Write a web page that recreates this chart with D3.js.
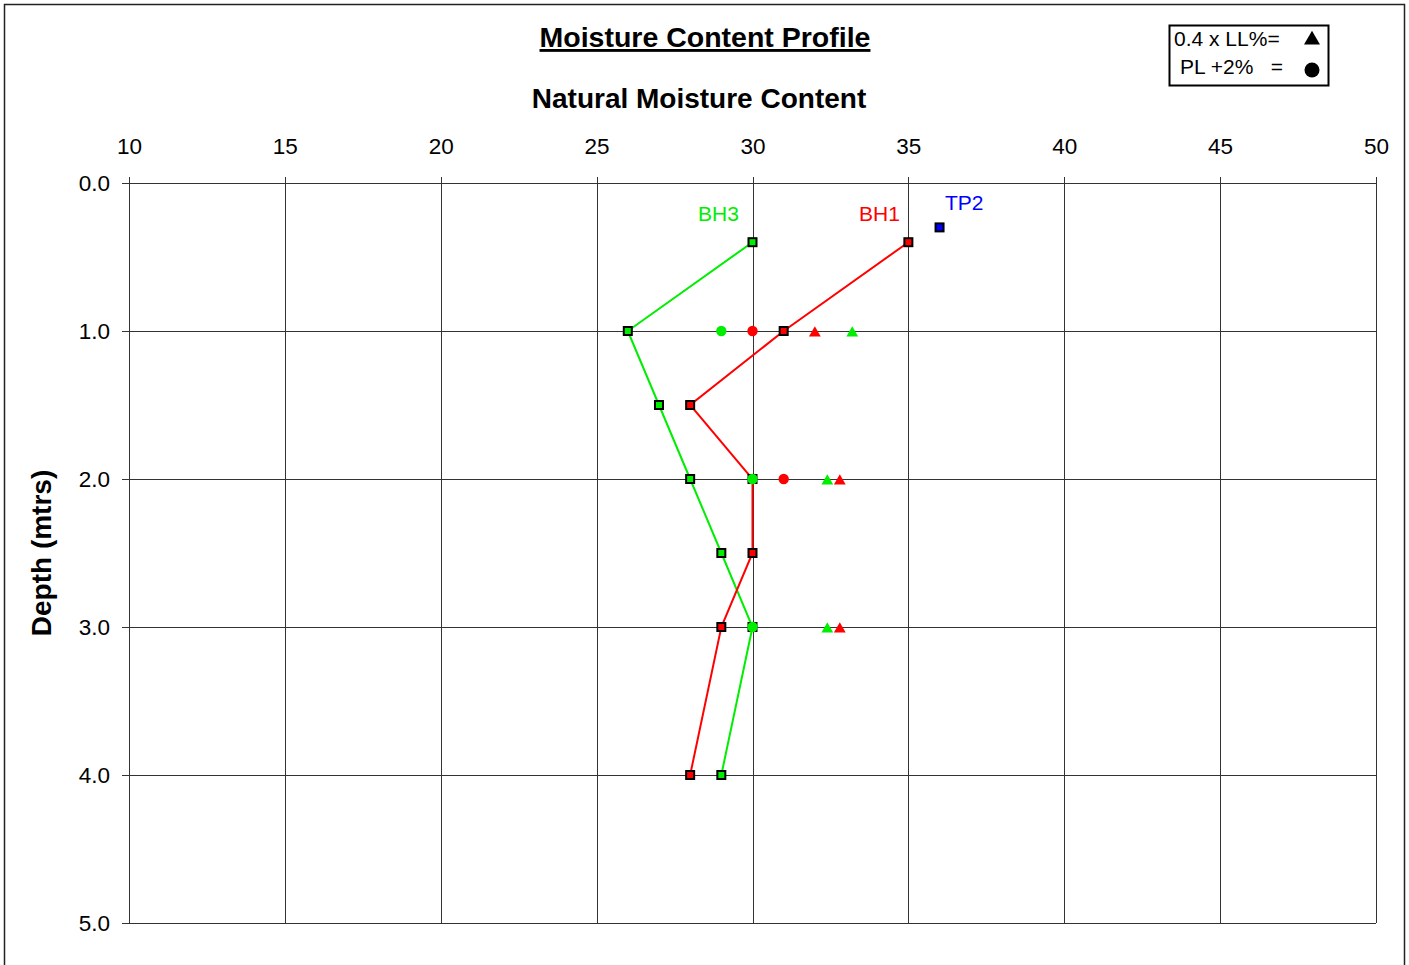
<!DOCTYPE html>
<html><head><meta charset="utf-8">
<script src="https://cdn.jsdelivr.net/npm/d3@7"></script>
<style>body{margin:0;background:#fff;font-family:"Liberation Sans",Arial,sans-serif}</style>
</head><body>
<svg id="c" width="1409" height="965"></svg>
<script>
const xTicks = [10,15,20,25,30,35,40,45,50];
const yTicks = [0,1,2,3,4,5];
const bh3Depth = [0.4,1.0,1.5,2.0,2.5,3.0,4.0];
const bh3MC    = [30,26,27,28,29,30,29];
const bh1Depth = [0.4,1.0,1.5,2.0,2.5,3.0,4.0];
const bh1MC    = [35,31,28,30,30,29,28];
const tp2Depth = [0.3];
const tp2MC    = [36];
const bh3PLDepth = [1.0,2.0,3.0];
const bh3PL      = [29,30,30];
const bh1PLDepth = [1.0,2.0];
const bh1PL      = [30,31];
const bh3LLDepth = [1.0,2.0,3.0];
const bh3LL      = [33.2,32.4,32.4];
const bh1LLDepth = [1.0,2.0,3.0];
const bh1LL      = [32.0,32.8,32.8];
const GREEN="#00ee00", RED="#ff0000", BLUE="#0000ff";

const svg = d3.select("#c");
const L=129,R=1376,T=183,B=923;
const x = d3.scaleLinear().domain([10,50]).range([L,R]);
const y = d3.scaleLinear().domain([0,5]).range([T,B]);

// outer frame
svg.append("rect").attr("x",4.5).attr("y",4.5).attr("width",1400).attr("height",980)
  .attr("fill","none").attr("stroke","#222").attr("stroke-width",1.5);

// grid
const g = svg.append("g");
g.selectAll(".vx").data(xTicks).join("line")
  .attr("x1",d=>Math.round(x(d))+0.5).attr("x2",d=>Math.round(x(d))+0.5)
  .attr("y1",T-6).attr("y2",B).attr("stroke","#333").attr("stroke-width",1);
g.selectAll(".hy").data(yTicks).join("line")
  .attr("y1",d=>Math.round(y(d))+0.5).attr("y2",d=>Math.round(y(d))+0.5)
  .attr("x1",L-7).attr("x2",R).attr("stroke","#333").attr("stroke-width",1);

// axes via d3
const xAxis = d3.axisTop(x).tickValues(xTicks).tickSize(0).tickPadding(0).tickFormat(d3.format("d"));
svg.append("g").attr("transform",`translate(0,${T-29})`).call(xAxis)
  .call(s=>s.select(".domain").remove())
  .call(s=>s.selectAll("text").attr("font-size",22.5).attr("fill","#000").attr("font-family","Liberation Sans, Arial"));
const yAxis = d3.axisLeft(y).tickValues(yTicks).tickSize(0).tickPadding(0).tickFormat(d3.format(".1f"));
svg.append("g").attr("transform",`translate(${L-19},0)`).call(yAxis)
  .call(s=>s.select(".domain").remove())
  .call(s=>s.selectAll("text").attr("font-size",22.5).attr("fill","#000").attr("font-family","Liberation Sans, Arial"));

// titles
svg.append("text").attr("x",705).attr("y",47).attr("text-anchor","middle")
  .attr("font-size",28.5).attr("font-weight","bold").attr("text-decoration","underline")
  .text("Moisture Content Profile");
svg.append("text").attr("x",699).attr("y",108).attr("text-anchor","middle")
  .attr("font-size",28).attr("font-weight","bold").text("Natural Moisture Content");
svg.append("text").attr("transform","translate(51,553) rotate(-90)").attr("text-anchor","middle")
  .attr("font-size",28).attr("font-weight","bold").text("Depth (mtrs)");

// lines
const line = d3.line().x(d=>x(d[0])).y(d=>y(d[1]));
function series(mc,dep,color){
  const pts = mc.map((v,i)=>[v,dep[i]]);
  if(pts.length>1) svg.append("path").attr("d",line(pts)).attr("fill","none").attr("stroke",color).attr("stroke-width",2);
  svg.append("g").selectAll("rect").data(pts).join("rect")
    .attr("x",d=>x(d[0])-4).attr("y",d=>y(d[1])-4).attr("width",8).attr("height",8)
    .attr("fill",color).attr("stroke","#000").attr("stroke-width",2);
}
series(bh3MC,bh3Depth,GREEN);
series(bh1MC,bh1Depth,RED);
series(tp2MC,tp2Depth,BLUE);

function circles(mc,dep,color){
  svg.append("g").selectAll("circle").data(mc.map((v,i)=>[v,dep[i]])).join("circle")
    .attr("cx",d=>x(d[0])).attr("cy",d=>y(d[1])).attr("r",5.2).attr("fill",color);
}
circles(bh1PL,bh1PLDepth,RED);
circles(bh3PL,bh3PLDepth,GREEN);
const tri = d3.symbol().type(d3.symbolTriangle).size(60);
function tris(mc,dep,color){
  svg.append("g").selectAll("path").data(mc.map((v,i)=>[v,dep[i]])).join("path")
    .attr("d",tri).attr("transform",d=>`translate(${x(d[0])},${y(d[1])+2})`).attr("fill",color);
}
tris(bh1LL,bh1LLDepth,RED);
tris(bh3LL,bh3LLDepth,GREEN);

// series labels
svg.append("text").attr("x",698).attr("y",221).attr("font-size",21).attr("fill",GREEN).text("BH3");
svg.append("text").attr("x",859).attr("y",221).attr("font-size",21).attr("fill",RED).text("BH1");
svg.append("text").attr("x",945).attr("y",210).attr("font-size",21).attr("fill",BLUE).text("TP2");

// legend
const lg = svg.append("g");
lg.append("rect").attr("x",1169.5).attr("y",25.5).attr("width",159).attr("height",60)
  .attr("fill","#fff").attr("stroke","#000").attr("stroke-width",2);
lg.append("text").attr("x",1174).attr("y",46).attr("font-size",21).text("0.4 x LL%=");
lg.append("path").attr("d",d3.symbol().type(d3.symbolTriangle).size(110)).attr("transform","translate(1312,40)").attr("fill","#000");
lg.append("text").attr("x",1180).attr("y",74).attr("font-size",21).attr("xml:space","preserve").text("PL +2%   =");
lg.append("circle").attr("cx",1312).attr("cy",70).attr("r",7.5).attr("fill","#000");
</script>
</body></html>
